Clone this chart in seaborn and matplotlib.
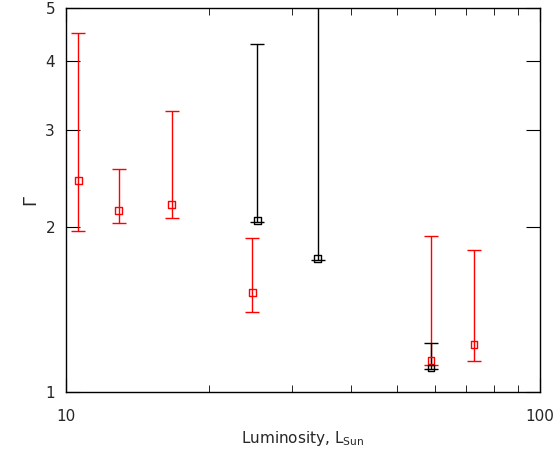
import numpy as np
import matplotlib
matplotlib.use("Agg")
import matplotlib.pyplot as plt
import seaborn as sns
from matplotlib.ticker import FixedLocator, FixedFormatter, NullFormatter, NullLocator

# red points
red_x = [10.6, 12.9, 16.7, 24.7, 58.9, 72.6]
red_y = [2.43, 2.14, 2.19, 1.52, 1.14, 1.22]
red_lo = [1.96, 2.03, 2.07, 1.40, 1.12, 1.14]
red_hi = [4.49, 2.54, 3.24, 1.91, 1.92, 1.81]

# black points
blk_x = [25.3, 34.0, 58.9]
blk_y = [2.05, 1.75, 1.106]
blk_lo = [2.04, 1.74, 1.10]
blk_hi = [4.29, 6.0, 1.23]

sns.set_style("white")
plt.rcParams['font.family'] = ['DejaVu Sans']

fig, ax = plt.subplots(figsize=(5.56, 4.58), dpi=100)
fig.subplots_adjust(left=0.119, right=0.971, top=0.983, bottom=0.144)

for xs, ys, lo, hi, c in [(red_x, red_y, red_lo, red_hi, 'red'),
                          (blk_x, blk_y, blk_lo, blk_hi, 'black')]:
    ys = np.array(ys)
    yerr = [ys - np.array(lo), np.array(hi) - ys]
    ax.errorbar(xs, ys, yerr=yerr, fmt='none', ecolor=c, elinewidth=1, capsize=5, capthick=1)
    sns.scatterplot(x=xs, y=ys, ax=ax, marker='s', s=25, facecolor='none',
                    edgecolor=c, linewidth=1, zorder=3)

ax.set_xscale('log')
ax.set_yscale('log')
ax.set_xlim(10, 100)
ax.set_ylim(1, 5)
ax.yaxis.set_major_locator(FixedLocator([1, 2, 3, 4, 5]))
ax.yaxis.set_major_formatter(FixedFormatter(['1', '2', '3', '4', '5']))
ax.yaxis.set_minor_locator(NullLocator())
ax.xaxis.set_major_locator(FixedLocator([10, 100]))
ax.xaxis.set_major_formatter(FixedFormatter(['10', '100']))
ax.xaxis.set_minor_locator(FixedLocator([20, 30, 40, 50, 60, 70, 80, 90]))
ax.xaxis.set_minor_formatter(NullFormatter())
ax.tick_params(which='both', direction='in', top=True, right=True,
               bottom=True, left=True, color='black')
ax.tick_params(which='major', length=10, labelsize=11)
ax.tick_params(axis='x', which='major', pad=12)
ax.tick_params(axis='y', which='major', pad=8)
ax.tick_params(which='minor', length=5)
for s in ax.spines.values():
    s.set_color('black')
    s.set_linewidth(1)
ax.set_xlabel('Luminosity, L$_{\\mathrm{Sun}}$', fontsize=11)
ax.set_ylabel('Γ', fontsize=13)
fig.savefig('out.png')
